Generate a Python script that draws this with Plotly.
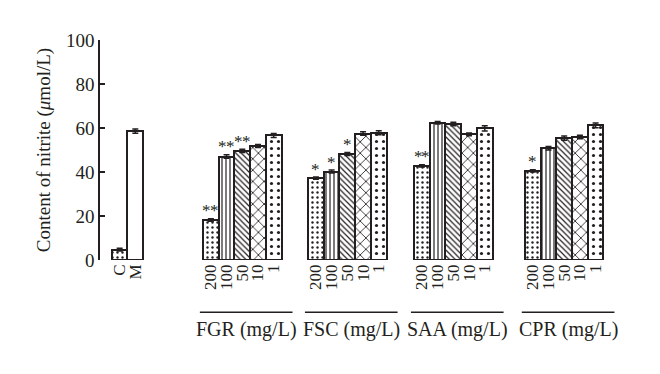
import plotly.graph_objects as go

# ---- data ----
control_labels = ["C", "M"]
control_values = [4.7, 58.6]
control_err = [0.6, 1.0]

dose_labels = ["200", "100", "50", "10", "1"]
group_names = ["FGR (mg/L)", "FSC (mg/L)", "SAA (mg/L)", "CPR (mg/L)"]
fgr_values = [18.2, 47.0, 49.6, 51.8, 56.6]
fsc_values = [37.2, 40.2, 48.2, 57.5, 57.8]
saa_values = [42.8, 62.4, 61.8, 57.1, 59.8]
cpr_values = [40.5, 50.8, 55.4, 55.9, 61.2]
fgr_err = [0.6, 0.8, 0.7, 0.7, 0.9]
fsc_err = [0.5, 0.7, 0.7, 0.8, 0.9]
saa_err = [0.5, 0.6, 0.8, 0.6, 1.2]
cpr_err = [0.5, 0.8, 1.0, 0.8, 1.1]
fgr_stars = [2, 2, 2, 0, 0]
fsc_stars = [1, 1, 1, 0, 0]
saa_stars = [2, 0, 0, 0, 0]
cpr_stars = [1, 0, 0, 0, 0]

group_values = [fgr_values, fsc_values, saa_values, cpr_values]
group_errs = [fgr_err, fsc_err, saa_err, cpr_err]
group_stars = [fgr_stars, fsc_stars, saa_stars, cpr_stars]

# ---- layout helpers (positions in bar-width units) ----
control_start = 0.75
group_starts = [6.56, 13.25, 20.0, 27.06]
DARK = "#231f20"
FONT = "Liberation Serif"

patterns = [
    dict(shape=".", size=5, solidity=0.18),
    dict(shape="|", size=4, solidity=0.3),
    dict(shape="\\", size=4, solidity=0.3),
    dict(shape="x", size=8, solidity=0.2),
    dict(shape=".", size=7, solidity=0.16),
]

fig = go.Figure()

def add_bar(x, y, err, pat):
    mp = dict(fgcolor=DARK, bgcolor="white", fillmode="replace")
    if pat:
        mp.update(pat)
    fig.add_trace(go.Bar(
        x=[x], y=[y], width=1.0,
        marker=dict(color="white", line=dict(color=DARK, width=2), pattern=mp),
        error_y=dict(type="data", array=[err], visible=True, color=DARK, thickness=1.5, width=3),
        showlegend=False,
    ))

tickvals, ticktext = [], []
for i, (lab, v, e) in enumerate(zip(control_labels, control_values, control_err)):
    xc = control_start + i + 0.5
    add_bar(xc, v, e, patterns[0] if i == 0 else None)
    tickvals.append(xc)
    ticktext.append(lab)

annotations = []
shapes = []
for g, (name, vals, errs, stars) in enumerate(zip(group_names, group_values, group_errs, group_stars)):
    for i, (lab, v, e, n) in enumerate(zip(dose_labels, vals, errs, stars)):
        xc = group_starts[g] + i + 0.5
        add_bar(xc, v, e, patterns[i])
        tickvals.append(xc)
        ticktext.append(lab)
        offsets = [0.0] if n == 1 else ([-0.25, 0.25] if n == 2 else [])
        for off in offsets:
            annotations.append(dict(x=xc + off, y=v + e - 1.2, xref="x", yref="y",
                                    text="*", showarrow=False, yanchor="bottom", borderpad=0,
                                    font=dict(family=FONT, size=17, color=DARK)))
    center = group_starts[g] + 2.75
    shapes.append(dict(type="line", xref="x", yref="paper", x0=center - 2.95, x1=center + 2.95,
                       y0=-0.2376, y1=-0.2376, line=dict(color=DARK, width=1.5)))
    annotations.append(dict(x=center, y=-0.318, xref="x", yref="paper", text=name,
                            showarrow=False, yanchor="middle",
                            font=dict(family=FONT, size=20, color=DARK)))

fig.update_layout(
    width=660, height=374,
    margin=dict(l=92, r=38, t=31.5, b=121.5),
    paper_bgcolor="white", plot_bgcolor="white",
    font=dict(family=FONT, color=DARK),
    bargap=0,
    annotations=annotations,
    shapes=shapes,
    xaxis=dict(range=[0, 33.75], tickvals=tickvals, ticktext=ticktext, tickangle=-90,
               showline=False, showgrid=False, zeroline=False, ticks="",
               tickfont=dict(family=FONT, size=17, color=DARK)),
    yaxis=dict(range=[0, 100], tickvals=[0, 20, 40, 60, 80, 100], showline=True,
               linecolor=DARK, linewidth=1.5, ticks="inside", ticklen=5, tickwidth=1.5,
               tickcolor=DARK, showgrid=False, zeroline=False,
               tickfont=dict(family=FONT, size=19, color=DARK),
               title=dict(text="Content of nitrite (<i>μ</i>mol/L)", standoff=10,
                          font=dict(family=FONT, size=19, color=DARK))),
)

fig.write_html("out.html")
